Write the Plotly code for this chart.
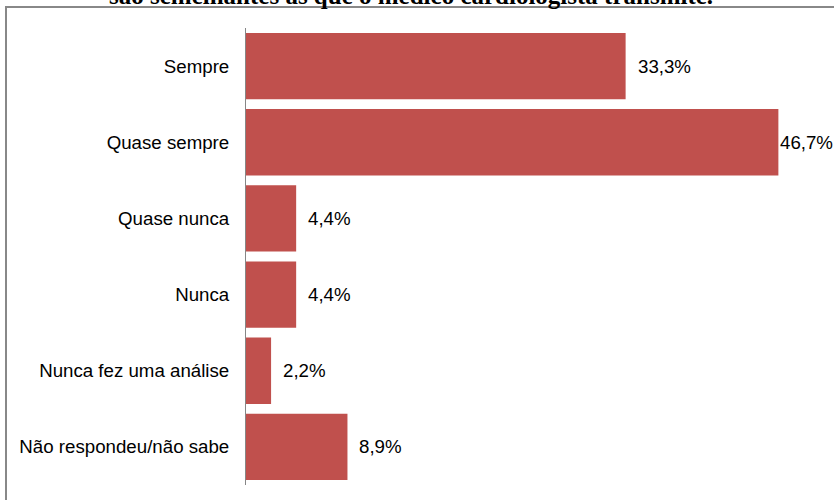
import plotly.graph_objects as go

# Response categories (top to bottom) and their shares in %
categories = [
    "Sempre",
    "Quase sempre",
    "Quase nunca",
    "Nunca",
    "Nunca fez uma análise",
    "Não respondeu/não sabe",
]
shares = [33.3, 46.7, 4.4, 4.4, 2.2, 8.9]

title_text = "são semelhantes às que o médico cardiologista transmite."

W, H = 834, 500
M_L, M_R, M_T, M_B = 246, 18, 28, 15
PLOT_W = W - M_L - M_R
PLOT_H = H - M_T - M_B
X_MAX = 50

BAR_COLOR = "#C0504D"
AXIS_GRAY = "#868686"
FONT = "Liberation Sans, Arial, sans-serif"
LABEL_SIZE = 18.7


def px_to_paper_x(px):
    return (px - M_L) / PLOT_W


def px_to_paper_y(py):
    return 1 + (M_T - py) / PLOT_H


def fmt_pct(v):
    return f"{v:.1f}".replace(".", ",") + "%"


fig = go.Figure(
    go.Bar(
        x=shares,
        y=categories,
        orientation="h",
        marker=dict(color=BAR_COLOR, line=dict(width=0)),
        hoverinfo="skip",
    )
)

# Value labels just past the end of each bar; the longest bar keeps its
# label tight against the bar so it stays inside the frame.
top_share = max(shares)
annotations = []
for cat, v in zip(categories, shares):
    annotations.append(
        dict(
            x=v,
            y=cat,
            xref="x",
            yref="y",
            text=fmt_pct(v),
            showarrow=False,
            xanchor="left",
            yanchor="middle",
            xshift=0 if v == top_share else 10,
            font=dict(family=FONT, size=LABEL_SIZE, color="#000000"),
        )
    )

# Chart title, partly running off the top edge
annotations.append(
    dict(
        x=px_to_paper_x(411),
        y=px_to_paper_y(-4),
        xref="paper",
        yref="paper",
        text="<b>" + title_text + "</b>",
        showarrow=False,
        xanchor="center",
        yanchor="middle",
        font=dict(family="Liberation Serif, Times New Roman, serif", size=25, color="#000000"),
    )
)

# Outer chart frame (left and top edges)
frame = dict(color="#888888", width=2)
shapes = [
    dict(type="line", xref="paper", yref="paper",
         x0=px_to_paper_x(6), x1=px_to_paper_x(6),
         y0=px_to_paper_y(7), y1=px_to_paper_y(H + 5), line=frame),
    dict(type="line", xref="paper", yref="paper",
         x0=px_to_paper_x(5), x1=px_to_paper_x(W + 5),
         y0=px_to_paper_y(7), y1=px_to_paper_y(7), line=frame),
]

fig.update_layout(
    width=W,
    height=H,
    margin=dict(l=M_L, r=M_R, t=M_T, b=M_B, pad=0),
    paper_bgcolor="#FFFFFF",
    plot_bgcolor="#FFFFFF",
    showlegend=False,
    bargap=0.13,
    annotations=annotations,
    shapes=shapes,
    xaxis=dict(
        range=[0, X_MAX],
        visible=False,
        showgrid=False,
        zeroline=False,
        fixedrange=True,
    ),
    yaxis=dict(
        autorange="reversed",
        showline=True,
        linecolor=AXIS_GRAY,
        linewidth=1,
        ticks="",
        showgrid=False,
        zeroline=False,
        ticklabelstandoff=12,
        tickfont=dict(family=FONT, size=LABEL_SIZE, color="#000000"),
        fixedrange=True,
    ),
)

fig.write_html("out.html")
